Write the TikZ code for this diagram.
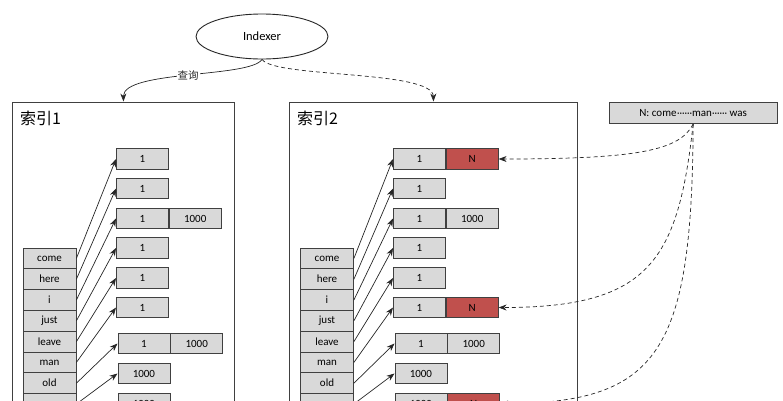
\documentclass[tikz,border=0pt]{standalone}
\usepackage{fontspec}
\setmainfont{Carlito}
\newfontfamily\cjk{Noto Sans CJK SC}
\usetikzlibrary{arrows.meta,shapes.geometric}
\definecolor{cellgray}{HTML}{D9D9D9}
\definecolor{cellred}{HTML}{C0504D}
\definecolor{linegray}{HTML}{404040}
\begin{document}
\begin{tikzpicture}[x=1pt,y=-1pt,
  cell/.style={draw=linegray, line width=0.8pt, fill=cellgray, minimum width=52, minimum height=20.5, inner sep=0pt, font=\fontsize{11}{13}\selectfont},
  redcell/.style={cell, fill=cellred},
  word/.style={cell, minimum width=53, minimum height=20.8},
  frame/.style={draw=linegray, line width=0.9pt, fill=none, anchor=north west, inner sep=0pt},
  title/.style={anchor=west, inner sep=0pt, font=\fontsize{16}{18}\cjk},
  arr/.style={-{Stealth[length=8pt,width=6pt]}, line width=0.7pt, black!85},
  darr/.style={arr, dash pattern=on 4pt off 3pt}
]
\useasboundingbox (0,0) rectangle (783,400);
\clip (0,0) rectangle (783,400);

% Indexer
\node[draw=black!85, line width=0.9pt, ellipse, minimum width=132, minimum height=45, inner sep=0pt, font=\fontsize{12.5}{15}\selectfont] (idx) at (262,36.5) {Indexer};

% frames
\node[frame, minimum width=222, minimum height=340] (f1) at (12,101.5) {};
\node[frame, minimum width=288, minimum height=340] (f2) at (289,101.5) {};
\node[title] (t1) at (20,118) {索引1};
\node[title] (t2) at (297,118) {索引2};

% arrows from Indexer
\draw[arr] (idx.south) .. controls (250,78) and (123,70) .. node[fill=white, inner sep=1pt, font=\fontsize{10.5}{12}\cjk] (q) {查询} (f1.north);
\draw[darr] (idx.south) .. controls (275,78) and (433,70) .. (f2.north);

% word columns
\foreach \w [count=\i] in {come,here,i,just,leave,man,old,{}} {
  \node[word] (a\i) at (49.5,{248+20.8*(\i-0.5)}) {\w};
  \node[word] (c\i) at (327,{248+20.8*(\i-0.5)}) {\w};
}

% posting boxes
\foreach \y/\x/\t [count=\i] in {159/116/1,188.5/116/1,218.5/116/1,248/116/1,278/116/1,307.5/116/1,343.5/117.5/1,373.5/117.5/1000,403.5/117.5/1000} {
  \node[cell, anchor=west] (b\i) at (\x,\y) {\t};
  \node[cell, anchor=west] (d\i) at (\x+277,\y) {\t};
}
\node[cell, anchor=west] (b3x) at (b3.east) {1000};
\node[cell, anchor=west] (b7x) at (b7.east) {1000};
\node[redcell, anchor=west] (d1x) at (d1.east) {N};
\node[cell, anchor=west] (d3x) at (d3.east) {1000};
\node[redcell, anchor=west] (d6x) at (d6.east) {N};
\node[cell, anchor=west] (d7x) at (d7.east) {1000};
\node[redcell, anchor=west] (d9x) at (d9.east) {N};

% connectors word -> postings
\foreach \i in {1,...,8} {
  \draw[arr] (a\i.east) -- (b\i.west);
  \draw[arr] (c\i.east) -- (d\i.west);
}

% N box
\node[cell, minimum width=167.5, minimum height=21.5, anchor=north west] (nb) at (609,101.7) {N: come\kern0.5pt{\fontsize{10}{12}\selectfont ······}man{\fontsize{10}{12}\selectfont ······} was};

\draw[darr] (nb.south) .. controls (680,150) and (640,159) .. (d1x.east);
\draw[darr] (nb.south) .. controls (678,260) and (650,307.5) .. (d6x.east);
\draw[darr] (nb.south) .. controls (692,350) and (660,403.5) .. (d9x.east);
\end{tikzpicture}
\end{document}
